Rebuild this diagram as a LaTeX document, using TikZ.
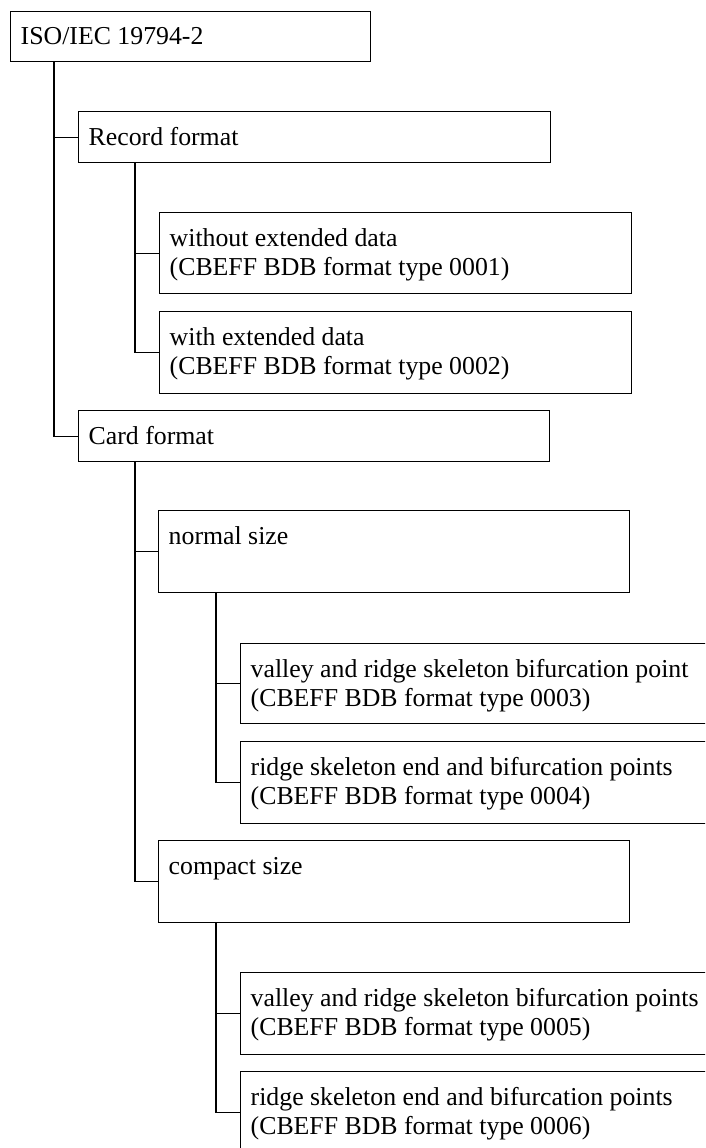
\documentclass[tikz,border=0pt]{standalone}
\usepackage{fontspec}
\setmainfont{Liberation Serif}
\usetikzlibrary{calc}
\begin{document}
\begin{tikzpicture}[x=1pt,y=-1pt,
  box/.style={draw=black, line width=1.4pt, rectangle, inner sep=0pt, anchor=north west},
  lbl/.style={inner sep=0pt, anchor=base west, align=left, font=\fontsize{25.8}{29}\selectfont},
  link/.style={draw=black, line width=1.4pt}]
\useasboundingbox (0,0) rectangle (705,1148);
\clip (0,0) rectangle (705,1148);
% boxes
\node[box, minimum width=360pt, minimum height=50pt] (root) at (10,11) {};
\node[box, minimum width=472pt, minimum height=51pt] (rec) at (78,111) {};
\node[box, minimum width=472pt, minimum height=81pt] (wo) at (159,212) {};
\node[box, minimum width=472pt, minimum height=82pt] (wi) at (159,311) {};
\node[box, minimum width=471pt, minimum height=51pt] (card) at (78,410) {};
\node[box, minimum width=471pt, minimum height=82pt] (norm) at (158,510) {};
\node[box, minimum width=490pt, minimum height=80pt] (va) at (240,643) {};
\node[box, minimum width=490pt, minimum height=82pt] (ri) at (240,741) {};
\node[box, minimum width=471pt, minimum height=82pt] (comp) at (158,840) {};
\node[box, minimum width=490pt, minimum height=82pt] (vb) at (240,972) {};
\node[box, minimum width=490pt, minimum height=82pt] (rb) at (240,1071) {};
% labels (base anchor of a two-line label is its second line)
\node[lbl] (rootT) at ($(root.north west)+(10.5,34)$) {ISO/IEC 19794-2};
\node[lbl] (recT) at ($(rec.north west)+(10.5,34)$) {Record format};
\node[lbl] (woT) at ($(wo.north west)+(10.5,63)$) {without extended data\\(CBEFF BDB format type 0001)};
\node[lbl] (wiT) at ($(wi.north west)+(10.5,63)$) {with extended data\\(CBEFF BDB format type 0002)};
\node[lbl] (cardT) at ($(card.north west)+(10.5,34)$) {Card format};
\node[lbl] (normT) at ($(norm.north west)+(10.5,34)$) {normal size};
\node[lbl] (vaT) at ($(va.north west)+(10.5,63)$) {valley and ridge skeleton bifurcation point\\(CBEFF BDB format type 0003)};
\node[lbl] (riT) at ($(ri.north west)+(10.5,63)$) {ridge skeleton end and bifurcation points\\(CBEFF BDB format type 0004)};
\node[lbl] (compT) at ($(comp.north west)+(10.5,34)$) {compact size};
\node[lbl] (vbT) at ($(vb.north west)+(10.5,63)$) {valley and ridge skeleton bifurcation points\\(CBEFF BDB format type 0005)};
\node[lbl] (rbT) at ($(rb.north west)+(10.5,63)$) {ridge skeleton end and bifurcation points\\(CBEFF BDB format type 0006)};
% connectors
\draw[link] ($(root.south west)+(44,0)$) |- (rec.west);
\draw[link] ($(root.south west)+(44,0)$) |- (card.west);
\draw[link] ($(rec.south west)+(57,0)$) |- (wo.west);
\draw[link] ($(rec.south west)+(57,0)$) |- (wi.west);
\draw[link] ($(card.south west)+(57,0)$) |- (norm.west);
\draw[link] ($(card.south west)+(57,0)$) |- (comp.west);
\draw[link] ($(norm.south west)+(58,0)$) |- (va.west);
\draw[link] ($(norm.south west)+(58,0)$) |- (ri.west);
\draw[link] ($(comp.south west)+(58,0)$) |- (vb.west);
\draw[link] ($(comp.south west)+(58,0)$) |- (rb.west);
\end{tikzpicture}
\end{document}
